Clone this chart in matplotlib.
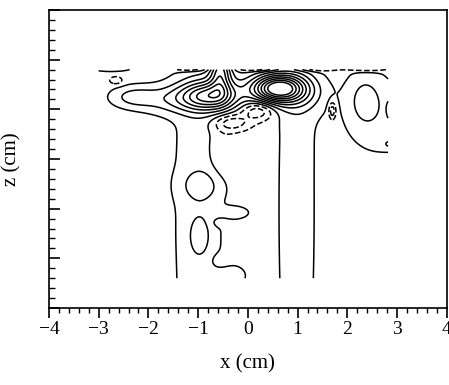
import numpy as np
import matplotlib
matplotlib.use("Agg")
import matplotlib.pyplot as plt
from matplotlib.ticker import MultipleLocator, NullFormatter

plt.rcParams["font.family"] = ["Liberation Serif", "DejaVu Serif"]

# measured window (cm)
x_range = [-3.0, 2.82]
z_range = [0.6, 4.8]

# flow structures: centre x, centre z, amplitude, width x, width z
struct_x   = [0.60, 1.10, -0.76, -0.55, -2.30, -1.55,       # vortices, tongue
              -1.00, 0.98,                                  # columns
              2.70, 2.35, 2.90, 2.86,                       # right cell
              -0.92, -0.97, -0.52, -0.25, -0.55, -0.55, -0.30,
              -2.75,
              -0.32, 0.20, -2.65, 1.70,                     # troughs
              -1.15, 0.17, 1.38, 2.40]                      # upper edge
struct_z   = [4.42, 4.30, 4.27, 4.80, 4.25, 4.20,
              2.00, 2.00,
              3.80, 4.20, 4.00, 3.30,
              2.47, 1.45, 3.15, 1.92, 1.72, 0.95, 0.65,
              4.85,
              3.73, 3.97, 4.58, 3.97,
              4.85, 4.85, 4.85, 4.85]
struct_amp = [1.90, 0.25, 1.20, 0.90, 0.35, 0.35,
              0.20, 0.20,
              0.17, 0.30, 0.25, 0.25,
              0.25, 0.25, -0.16, 0.22, -0.12, -0.10, 0.20,
              0.30,
              -0.45, -0.50, -0.25, -0.50,
              -0.60, -0.60, -0.60, -0.60]
struct_sx  = [0.36, 0.35, 0.40, 0.15, 0.32, 0.45,
              0.38, 0.30,
              0.55, 0.25, 0.08, 0.10,
              0.30, 0.15, 0.18, 0.20, 0.12, 0.15, 0.20,
              0.30,
              0.25, 0.22, 0.10, 0.05,
              0.25, 0.28, 0.28, 0.30]
struct_sz  = [0.20, 0.28, 0.21, 0.35, 0.15, 0.20,
              4.00, 4.00,
              0.62, 0.38, 0.20, 0.06,
              0.22, 0.28, 0.40, 0.09, 0.06, 0.10, 0.15,
              0.06,
              0.12, 0.13, 0.06, 0.12,
              0.05, 0.05, 0.05, 0.05]

pos_levels = [0.1, 0.3, 0.5, 0.7, 0.9, 1.1, 1.3, 1.5, 1.7]
neg_levels = [-0.3, -0.1]

x = np.linspace(x_range[0], x_range[1], 400)
z = np.linspace(z_range[0], z_range[1], 320)
X, Z = np.meshgrid(x, z)
W = np.zeros_like(X)
for cx, cz, a, sx, sz in zip(struct_x, struct_z, struct_amp, struct_sx, struct_sz):
    W += a * np.exp(-((X - cx) ** 2) / (2 * sx ** 2) - ((Z - cz) ** 2) / (2 * sz ** 2))

fig = plt.figure(figsize=(4.49, 3.85), dpi=100)
ax = fig.add_axes([0.109, 0.2, 0.886, 0.774])

ax.contour(X, Z, W, levels=pos_levels, colors="black", linewidths=1.1,
           linestyles="solid")
ax.contour(X, Z, W, levels=neg_levels, colors="black", linewidths=1.1,
           linestyles="dashed")

ax.set_xlim(-4, 4)
ax.set_ylim(0, 6)
ax.xaxis.set_major_locator(MultipleLocator(1))
ax.xaxis.set_minor_locator(MultipleLocator(0.2))
ax.yaxis.set_major_locator(MultipleLocator(1))
ax.yaxis.set_minor_locator(MultipleLocator(0.2))
ax.yaxis.set_major_formatter(NullFormatter())
ax.tick_params(axis="x", which="major", direction="out", length=7, width=1.2,
               labelsize=14, pad=2)
ax.tick_params(axis="x", which="minor", direction="out", length=3.5, width=1)
ax.tick_params(axis="y", which="major", direction="in", length=8, width=1.2)
ax.tick_params(axis="y", which="minor", direction="in", length=4, width=1)
for s in ax.spines.values():
    s.set_linewidth(1.2)

ax.set_xlabel("x (cm)", fontsize=15, labelpad=12)
ax.set_ylabel("z (cm)", fontsize=15, labelpad=16)

fig.savefig("out.png", dpi=100)
